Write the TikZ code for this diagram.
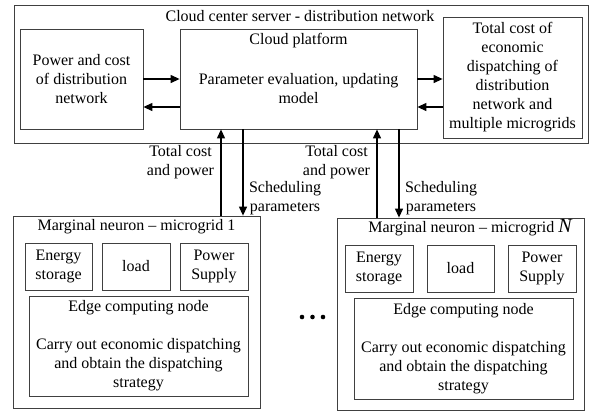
\documentclass[tikz,border=0pt]{standalone}
\usepackage{fontspec}
\setmainfont{Liberation Serif}
\usetikzlibrary{arrows.meta,calc}

\begin{document}
\begin{tikzpicture}[x=1pt, y=-1pt, >={Triangle[length=9pt,width=8pt]},
    every node/.style={font=\fontsize{16}{19}\selectfont},
    box/.style={draw=black!75, line width=0.8pt, align=center, inner sep=0pt},
    testo/.style={align=center, inner sep=0pt},
    freccia/.style={->, line width=1.2pt}]
    \useasboundingbox (0,0) rectangle (599,416);

    % Server cloud
    \node[box, minimum width=574pt, minimum height=138pt] (cloud) at (301,74) {};
    \node[testo] (cloudtitle) at (300,16) {Cloud center server - distribution network};
    \node[box, minimum width=123pt, minimum height=100pt] (power) at (81.5,79)
        {Power and cost\\of distribution\\network};
    \node[box, minimum width=237pt, minimum height=100pt] (platform) at (298.5,79) {};
    \node[testo] (platformtitle) at (298.5,41) {Cloud platform};
    \node[testo] (platformtext) at (298.5,88.5) {Parameter evaluation, updating\\model};
    \node[box, minimum width=139pt, minimum height=121pt] (total) at (512.5,77.5)
        {Total cost of\\economic\\dispatching of\\distribution\\network and\\multiple microgrids};

    % Frecce nel cloud
    \draw[freccia] (power.east) -- (power.east -| platform.west);
    \draw[freccia] ($(platform.west)+(0,28)$) -- ($(power.east)+(0,28)$);
    \draw[freccia] (platform.east) -- (platform.east -| total.west);
    \draw[freccia] ($(platform.east -| total.west)+(0,28)$) -- ($(platform.east)+(0,28)$);

    % Microgrid 1
    \node[box, minimum width=247pt, minimum height=192pt] (mg1) at (136.5,312) {};
    \node[testo] (mg1title) at (136.5,227) {Marginal neuron -- microgrid 1};
    \node[box, minimum width=67pt, minimum height=47pt] (es1) at (58.5,266.5) {Energy\\storage};
    \node[box, minimum width=68pt, minimum height=47pt] (load1) at (136,266.5) {load};
    \node[box, minimum width=68pt, minimum height=47pt] (ps1) at (214,266.5) {Power\\Supply};
    \node[box, minimum width=219pt, minimum height=100pt] (edge1) at (138.5,346)
        {Edge computing node\\[19pt]Carry out economic dispatching\\and obtain the dispatching\\strategy};

    % Microgrid N
    \node[box, minimum width=247pt, minimum height=192pt] (mgN) at (460.5,314) {};
    \node[testo] (mgNtitle) at (470,228) {Marginal neuron -- microgrid {\fontsize{20}{20}\selectfont\itshape N}};
    \node[box, minimum width=68pt, minimum height=47pt] (esN) at (379,268.5) {Energy\\storage};
    \node[box, minimum width=67pt, minimum height=47pt] (loadN) at (460.5,268.5) {load};
    \node[box, minimum width=68pt, minimum height=47pt] (psN) at (542,268.5) {Power\\Supply};
    \node[box, minimum width=219pt, minimum height=101pt] (edgeN) at (463.5,348.5)
        {Edge computing node\\[19pt]Carry out economic dispatching\\and obtain the dispatching\\strategy};

    % Puntini
    \fill (302,317) circle (2.3pt);
    \fill (312.5,317) circle (2.3pt);
    \fill (323,317) circle (2.3pt);

    % Frecce verticali
    \coordinate (su1) at (221,0);
    \coordinate (giu1) at (243,0);
    \coordinate (suN) at (377,0);
    \coordinate (giuN) at (399,0);
    \draw[freccia] (mg1.north -| su1) -- (platform.south -| su1);
    \draw[freccia] (platform.south -| giu1) -- (mg1.north -| giu1);
    \draw[freccia] (mgN.north -| suN) -- (platform.south -| suN);
    \draw[freccia] (platform.south -| giuN) -- (mgN.north -| giuN);

    % Etichette
    \node[testo] (costo1) at (180.5,162) {Total cost\\and power};
    \node[testo] (sched1) at (285,198) {Scheduling\\parameters};
    \node[testo] (costoN) at (336.5,162) {Total cost\\and power};
    \node[testo] (schedN) at (441,198) {Scheduling\\parameters};
\end{tikzpicture}
\end{document}
